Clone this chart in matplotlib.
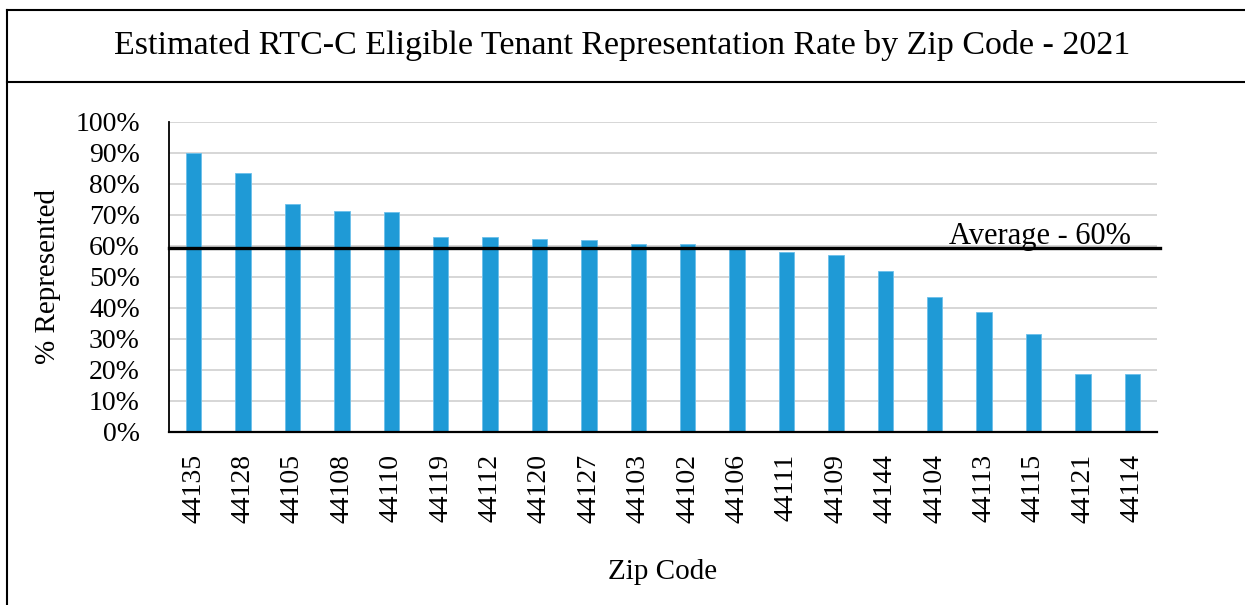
import matplotlib.pyplot as plt
from matplotlib.lines import Line2D
from matplotlib.ticker import PercentFormatter

# values
zip_codes = ["44135", "44128", "44105", "44108", "44110", "44119", "44112",
             "44120", "44127", "44103", "44102", "44106", "44111", "44109",
             "44144", "44104", "44113", "44115", "44121", "44114"]
pct_represented = [89.8, 83.4, 73.5, 71.3, 70.9, 62.8, 62.8, 62.1, 61.9, 60.5,
                   60.4, 59.0, 58.1, 56.9, 51.9, 43.5, 38.5, 31.6, 18.7, 18.7]
average_pct = 59.2
title = "Estimated RTC-C Eligible Tenant Representation Rate by Zip Code - 2021"

plt.rcParams['font.family'] = ['Liberation Serif', 'DejaVu Serif']

fig = plt.figure(figsize=(12.45, 6.05), dpi=100)
ax = fig.add_axes([0.1357, 0.2864, 0.7936, 0.5124])

x = range(len(zip_codes))
ax.bar(x, pct_represented, width=0.31, color="#1f9ad6", edgecolor="#6cc0ea",
       linewidth=0.6, zorder=2)
ax.axhline(average_pct, color="black", linewidth=2.4, zorder=3,
           xmin=0, xmax=1.003, clip_on=False)
ax.text(18.98, 60.6, "Average - 60%", ha="right", va="baseline", fontsize=22,
        zorder=4)

ax.set_xlim(-0.5, len(zip_codes) - 0.5)
ax.set_ylim(0, 100)
ax.set_yticks(range(0, 101, 10))
ax.yaxis.set_major_formatter(PercentFormatter(decimals=0))
ax.set_xticks(list(x))
ax.set_xticklabels(zip_codes, rotation=90)
ax.tick_params(axis="both", length=0, labelsize=20)
ax.tick_params(axis="y", pad=21)
ax.tick_params(axis="x", pad=16)
ax.grid(axis="y", color="#d6d6d6", linewidth=1.4, zorder=0)
ax.set_axisbelow(True)

for s in ["top", "right"]:
    ax.spines[s].set_visible(False)
ax.spines["left"].set_linewidth(1.3)
ax.spines["bottom"].set_linewidth(1.6)

ax.set_ylabel("% Represented", fontsize=21, labelpad=10)
ax.set_xlabel("Zip Code", fontsize=21, labelpad=26)

fig.text(0.5, 0.925, title, ha="center", va="center", fontsize=24.5)

# outer frame and title box
for xs, ys in [([0.0056, 1.0], [0.9835, 0.9835]),
               ([0.0056, 0.0056], [0.0, 0.9835]),
               ([0.0056, 1.0], [0.865, 0.865])]:
    fig.add_artist(Line2D(xs, ys, color="black", linewidth=1.5,
                          transform=fig.transFigure))

fig.savefig("out.png", dpi=100)
